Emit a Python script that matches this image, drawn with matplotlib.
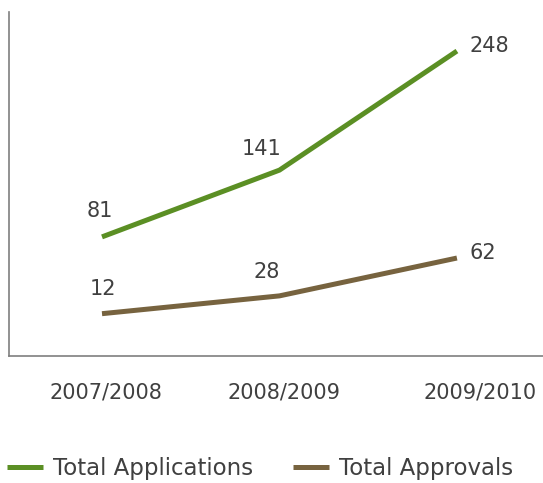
import matplotlib.pyplot as plt

plt.rcParams['font.family'] = ['DejaVu Sans']

years = ['2007/2008', '2008/2009', '2009/2010']
applications = [81, 141, 248]
approvals = [12, 28, 62]

green = '#5b8f24'
brown = '#77633f'
txt = '#404040'

fig = plt.figure(figsize=(5.43, 4.83), dpi=100)
ax = fig.add_axes([0.0166, 0.263, 0.9834, 0.712])

x = list(range(len(years)))
ax.plot(x, applications, color=green, lw=3.6, solid_capstyle='butt', label='Total Applications')
ax.plot(x, approvals, color=brown, lw=3.6, solid_capstyle='butt', label='Total Approvals')

# value labels (offsets in points, baseline aligned)
offs_app = [(-1.5, 14), (-13, 11), (23, -0.5)]
offs_apr = [(0.5, 13.3), (-9.4, 12.6), (18.7, -0.5)]
for series, offs in [(applications, offs_app), (approvals, offs_apr)]:
    for i, v in enumerate(series):
        ax.annotate(str(v), (i, v), xytext=offs[i], textcoords='offset points',
                    ha='center', va='baseline', fontsize=15, color=txt)

ax.set_xlim(-0.524, 2.485)
ax.set_ylim(-26, 283)
# last label is nudged inward so it stays inside the figure
ax.set_xticks([0.023, 1.023, 2.13])
ax.set_xticklabels(years, fontsize=15, color=txt)
ax.set_yticks([])
ax.tick_params(axis='x', length=0, pad=19)
for s in ['top', 'right']:
    ax.spines[s].set_visible(False)
for s in ['left', 'bottom']:
    ax.spines[s].set_color('#7f7f7f')
    ax.spines[s].set_linewidth(1.2)

fig.legend(loc='center left', bbox_to_anchor=(0.0129, 0.031), ncol=2, frameon=False,
           fontsize=16.5, handlelength=1.57, handletextpad=0.44, columnspacing=1.75,
           borderpad=0, borderaxespad=0, labelcolor=txt)

fig.savefig('out.png', dpi=100)
